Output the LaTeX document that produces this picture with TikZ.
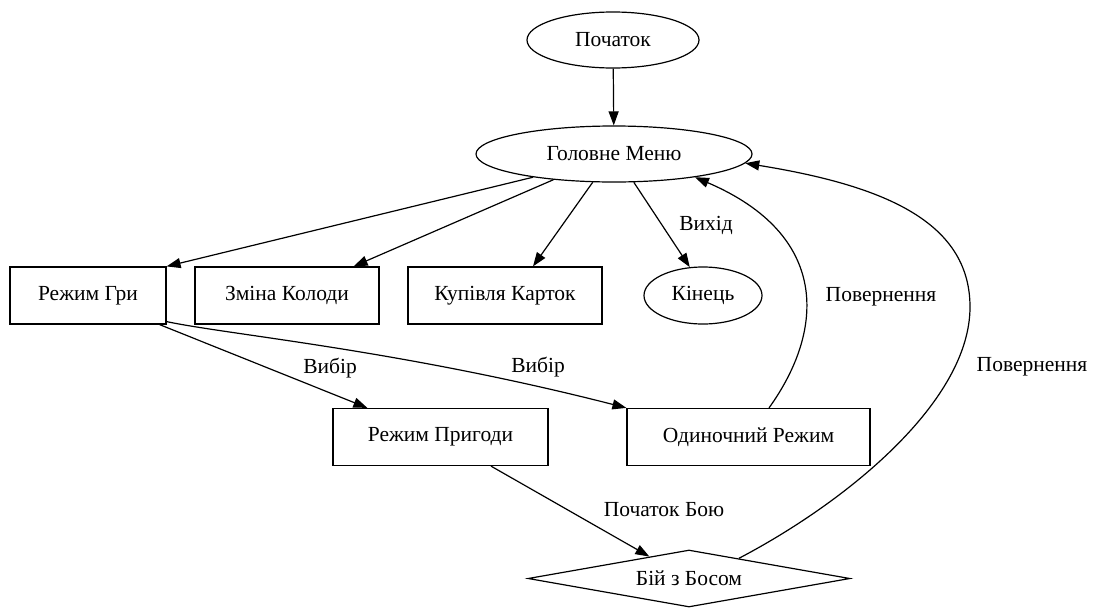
\documentclass[tikz,border=0pt]{standalone}
\usepackage{fontspec}
\setmainfont{Liberation Serif}
\usetikzlibrary{shapes.geometric,arrows.meta}
\begin{document}
\begin{tikzpicture}[x=1pt,y=-1pt,
  every node/.style={font=\fontsize{21.5}{25}\selectfont, inner sep=0pt},
  elnode/.style={draw, ellipse, line width=1.2pt},
  boxnode/.style={draw, rectangle, line width=1.2pt, minimum height=57pt},
  dianode/.style={draw, diamond, shape aspect=5.6, line width=1.2pt, minimum width=322pt, minimum height=57pt},
  edge/.style={line width=1.2pt, -{Triangle[length=14pt,width=10pt]}},
  lbl/.style={}]
\useasboundingbox (0,0) rectangle (1097,608);
\node[elnode, minimum width=172pt, minimum height=56pt] (st) at (613,40) {Початок};
\node[elnode, minimum width=276pt, minimum height=56pt] (gm) at (614,154) {Головне Меню};
\node[boxnode, minimum width=156pt] (rg) at (88,295.5) {Режим Гри};
\node[boxnode, minimum width=184pt] (zk) at (287,295.5) {Зміна Колоди};
\node[boxnode, minimum width=194pt] (kk) at (505,295.5) {Купівля Карток};
\node[elnode, minimum width=118pt, minimum height=57pt] (kin) at (703,295.5) {Кінець};
\node[boxnode, minimum width=215pt] (rp) at (440.5,437) {Режим Пригоди};
\node[boxnode, minimum width=243pt] (or) at (748.5,437) {Одиночний Режим};
\node[dianode] (bb) at (689,578.5) {Бій з Босом};

\draw[edge] (st) -- (gm);
\draw[edge] (gm.-164.7) -- (rg.north east);
\draw[edge] (gm.203.8) -- ([xshift=-26pt]zk.north east);
\draw[edge] (gm.233) -- ([xshift=28pt]kk.north);
\draw[edge] (gm.305) -- (kin.115);
\draw[edge] ([xshift=-7pt]rg.south east) -- ([xshift=35pt]rp.north west);
\draw[edge] ([yshift=3pt]rg.south east) .. controls (230,335) and (400,350) .. (or.north west);
\draw[edge] ([xshift=20.5pt]or.north) .. controls (825,330) and (830,235) .. (gm.-16);
\draw[edge] (bb.22) .. controls (850,500) and (970,400) .. (970,307) .. controls (970,220) and (880,185) .. (gm.-4);
\draw[edge] ([xshift=50.5pt]rp.south) -- (bb.151);

\node[lbl] (l1) at (706,225) {Вихід};
\node[lbl] (l2) at (330,368) {Вибір};
\node[lbl] (l3) at (538,367) {Вибір};
\node[lbl] (l4) at (881,297) {Повернення};
\node[lbl] (l5) at (1032,367) {Повернення};
\node[lbl] (l6) at (664,510) {Початок Бою};
\end{tikzpicture}
\end{document}
